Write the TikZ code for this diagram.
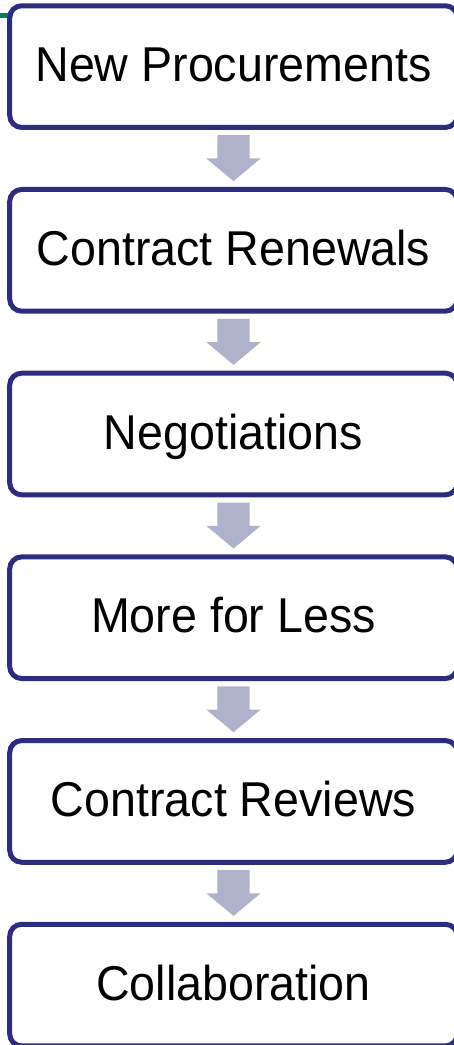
\documentclass[tikz,border=0pt]{standalone}
\usepackage{fontspec}
\setmainfont{Liberation Sans}
\newfontfamily\boxfont{Liberation Sans}[FakeStretch=0.953]
\usetikzlibrary{calc}
\definecolor{boxborder}{RGB}{45,45,128}
\definecolor{arrowfill}{RGB}{176,178,204}
\definecolor{tealline}{RGB}{0,128,100}
\tikzset{
  stepbox/.style={draw=boxborder, line width=5pt, fill=white, rounded corners=12pt,
    rectangle, minimum width=447.6pt, minimum height=121.7pt, inner sep=0pt,
    font=\boxfont\fontsize{48.9}{54}\selectfont, text height=35pt, text depth=4.8pt},
  downarrow/.style={fill=arrowfill, draw=none}
}
\begin{document}
\begin{tikzpicture}[x=1pt,y=-1pt]
\useasboundingbox (0,0) rectangle (453,1045);
\fill[tealline] (0,13) rectangle (8,18);
\foreach \i/\t in {1/New Procurements,2/Contract Renewals,3/Negotiations,4/More for Less,5/Contract Reviews,6/Collaboration}{
  \node[stepbox] (b\i) at (233.5,{66.6+183.7*(\i-1)}) {\t};
}
\foreach \i/\j in {1/2,2/3,3/4,4/5,5/6}{
  \path ($(b\i.south)!0.5!(b\j.north)$) coordinate (m\i);
  \fill[downarrow] ([shift={(-16.2,-23.3)}]m\i) -- ([shift={(16.2,-23.3)}]m\i)
     -- ([shift={(16.2,0)}]m\i) -- ([shift={(27.2,0)}]m\i)
     -- ([shift={(0,22.7)}]m\i) -- ([shift={(-27.2,0)}]m\i)
     -- ([shift={(-16.2,0)}]m\i) -- cycle;
}
\end{tikzpicture}
\end{document}
